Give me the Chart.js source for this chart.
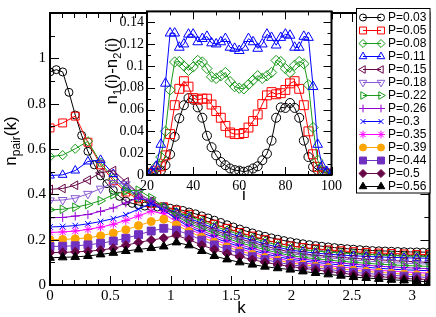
<!DOCTYPE html>
<html><head><meta charset="utf-8">
<script src="https://cdn.jsdelivr.net/npm/chart.js@4.4.0/dist/chart.umd.min.js"></script>
<style>
html,body{margin:0;padding:0;background:#fff;}
#wrap{position:relative;width:436px;height:317px;overflow:hidden;}
#main{position:absolute;left:0;top:0;}
#inset{position:absolute;left:95px;top:0;}
</style></head><body>
<div id="wrap">
<canvas id="main" width="436" height="317" style="width:436px;height:317px"></canvas>
<canvas id="inset" width="250" height="205" style="width:250px;height:205px"></canvas>
</div>
<script>
// ---------- data ----------
const kFine = [0,0.052,0.105,0.157,0.209,0.262,0.314,0.367,0.419,0.471,0.524,0.576,0.628,0.681,0.733,0.785,0.838,0.890,0.942,0.995,1.047,1.100,1.152,1.204,1.257,1.309,1.361,1.414,1.466,1.518,1.571,1.623,1.676,1.728,1.780,1.833,1.885,1.937,1.990,2.042,2.094,2.147,2.199,2.251,2.304,2.356,2.409,2.461,2.513,2.566,2.618,2.670,2.723,2.775,2.827,2.880,2.932,2.985,3.037,3.089,3.142];
const kCoarse = [0,0.105,0.209,0.314,0.419,0.524,0.628,0.733,0.838,0.942,1.047,1.152,1.257,1.361,1.466,1.571,1.676,1.780,1.885,1.990,2.094,2.199,2.304,2.409,2.513,2.618,2.723,2.827,2.932,3.037,3.142];
const iSites = [20,22,24,26,28,30,32,34,36,38,40,42,44,46,48,50,52,54,56,58,60,62,64,66,68,70,72,74,76,78,80,82,84,86,88,90,92,94,96,98,100];

const xTicks = [0,0.5,1,1.5,2,2.5,3];
const yTicks = [0,0.2,0.4,0.6,0.8,1];
const insetXTicks = [20,40,60,80,100];
const insetYTicks = [0,0.02,0.04,0.06,0.08,0.1,0.12,0.14];

const seriesLabels = ['P=0.03','P=0.05','P=0.08','P=0.11','P=0.15','P=0.18','P=0.22','P=0.26','P=0.3','P=0.35','P=0.39','P=0.44','P=0.5','P=0.56'];

const p003 = [0.94,0.95,0.94,0.85,0.75,0.66,0.59,0.53,0.482,0.447,0.418,0.391,0.37,0.36,0.353,0.348,0.346,0.344,0.342,0.339,0.335,0.329,0.322,0.314,0.305,0.296,0.286,0.276,0.266,0.256,0.247,0.238,0.23,0.222,0.215,0.208,0.202,0.196,0.191,0.186,0.182,0.178,0.174,0.171,0.168,0.165,0.162,0.16,0.158,0.156,0.154,0.152,0.151,0.15,0.149,0.148,0.147,0.146,0.146,0.145,0.145];
const p005 = [0.693,0.715,0.745,0.63,0.53,0.46,0.41,0.38,0.36,0.345,0.33,0.312,0.29,0.268,0.25,0.232,0.216,0.2,0.185,0.172,0.165,0.16,0.155,0.151,0.147,0.144,0.141,0.139,0.137,0.135,0.134];
const p008 = [0.566,0.573,0.601,0.634,0.54,0.47,0.42,0.385,0.36,0.342,0.322,0.303,0.282,0.26,0.24,0.222,0.206,0.191,0.176,0.163,0.156,0.15,0.145,0.141,0.138,0.135,0.132,0.13,0.128,0.127,0.126];
const p011 = [0.483,0.486,0.505,0.545,0.552,0.49,0.43,0.39,0.363,0.342,0.318,0.295,0.272,0.25,0.231,0.213,0.197,0.181,0.167,0.154,0.147,0.141,0.136,0.132,0.129,0.126,0.124,0.122,0.12,0.119,0.118];
const p015 = [0.422,0.426,0.44,0.463,0.495,0.505,0.455,0.405,0.37,0.343,0.313,0.287,0.264,0.242,0.222,0.204,0.188,0.172,0.158,0.145,0.138,0.132,0.127,0.122,0.118,0.114,0.111,0.108,0.105,0.102,0.1];
const p018 = [0.373,0.375,0.383,0.402,0.425,0.45,0.445,0.405,0.368,0.338,0.306,0.28,0.257,0.235,0.214,0.196,0.18,0.164,0.15,0.138,0.131,0.125,0.12,0.115,0.11,0.106,0.102,0.099,0.096,0.094,0.092];
const p022 = [0.332,0.334,0.343,0.355,0.372,0.398,0.415,0.418,0.385,0.345,0.303,0.272,0.249,0.227,0.206,0.187,0.171,0.156,0.142,0.13,0.122,0.116,0.11,0.105,0.1,0.096,0.092,0.089,0.086,0.084,0.082];
const p026 = [0.297,0.298,0.304,0.311,0.325,0.34,0.362,0.387,0.37,0.33,0.295,0.264,0.24,0.218,0.197,0.178,0.162,0.147,0.134,0.122,0.114,0.108,0.102,0.097,0.092,0.087,0.083,0.08,0.077,0.074,0.072];
const p030 = [0.256,0.258,0.262,0.27,0.28,0.293,0.31,0.335,0.36,0.33,0.29,0.256,0.231,0.209,0.188,0.169,0.153,0.138,0.125,0.114,0.106,0.1,0.094,0.088,0.083,0.078,0.074,0.07,0.067,0.065,0.063];
const p035 = [0.232,0.234,0.238,0.245,0.255,0.268,0.285,0.305,0.325,0.315,0.278,0.247,0.222,0.2,0.179,0.16,0.144,0.13,0.117,0.106,0.098,0.091,0.085,0.079,0.074,0.069,0.065,0.061,0.058,0.055,0.052];
const p039 = [0.2,0.201,0.204,0.208,0.217,0.229,0.244,0.262,0.28,0.29,0.265,0.236,0.211,0.189,0.168,0.15,0.135,0.121,0.109,0.098,0.09,0.083,0.077,0.071,0.065,0.06,0.056,0.052,0.048,0.045,0.042];
const p044 = [0.17,0.171,0.173,0.177,0.184,0.194,0.206,0.222,0.238,0.25,0.242,0.222,0.198,0.177,0.157,0.14,0.125,0.112,0.1,0.09,0.082,0.075,0.069,0.062,0.056,0.051,0.047,0.043,0.039,0.036,0.033];
const p050 = [0.143,0.144,0.146,0.149,0.154,0.162,0.175,0.188,0.198,0.207,0.219,0.2,0.176,0.156,0.139,0.125,0.112,0.1,0.09,0.082,0.074,0.067,0.06,0.053,0.046,0.041,0.037,0.033,0.029,0.026,0.024];
const p056 = [0.12,0.122,0.124,0.128,0.135,0.142,0.15,0.157,0.163,0.17,0.188,0.175,0.15,0.128,0.113,0.1,0.09,0.081,0.074,0.068,0.06,0.053,0.047,0.041,0.035,0.031,0.027,0.023,0.02,0.017,0.014];

const inset003 = [0.001,0.001,0.002,0.004,0.009,0.019,0.035,0.052,0.064,0.0705,0.069,0.062,0.0525,0.036,0.0255,0.018,0.012,0.009,0.006,0.0045,0.004,0.003,0.004,0.006,0.008,0.0135,0.0195,0.0315,0.0525,0.062,0.0615,0.066,0.0615,0.0525,0.0315,0.0165,0.0075,0.0045,0.003,0.0015,0.001];
const inset005 = [0.001,0.002,0.004,0.008,0.018,0.0375,0.064,0.079,0.086,0.081,0.0705,0.069,0.07,0.07,0.0646,0.0586,0.0525,0.045,0.039,0.0375,0.0375,0.0385,0.0435,0.0495,0.0555,0.065,0.073,0.076,0.074,0.075,0.078,0.084,0.086,0.079,0.064,0.04,0.019,0.0075,0.003,0.0015,0.001];
const inset008 = [0.001,0.003,0.008,0.0165,0.04,0.078,0.1036,0.104,0.1,0.096,0.099,0.105,0.1036,0.0976,0.09,0.0886,0.091,0.094,0.0856,0.081,0.0796,0.079,0.083,0.087,0.091,0.0886,0.091,0.094,0.105,0.104,0.0976,0.094,0.1006,0.104,0.102,0.0826,0.0435,0.0135,0.0045,0.002,0.001];
const inset011 = [0.001,0.003,0.008,0.028,0.084,0.13,0.13,0.117,0.12,0.129,0.129,0.122,0.125,0.127,0.121,0.12,0.122,0.125,0.117,0.116,0.114,0.117,0.125,0.122,0.116,0.12,0.129,0.126,0.119,0.126,0.129,0.128,0.117,0.117,0.127,0.126,0.081,0.028,0.008,0.003,0.001];

// ---------- styles ----------
const seriesX = [kFine,kCoarse,kCoarse,kCoarse,kCoarse,kCoarse,kCoarse,kCoarse,kCoarse,kCoarse,kCoarse,kCoarse,kCoarse,kCoarse];
const seriesY = [p003,p005,p008,p011,p015,p018,p022,p026,p030,p035,p039,p044,p050,p056];
const colors = ['#000000','#ff0000','#1a9a1a','#0000ff','#670748','#8b5bd5','#1a9a1a','#9400d3','#0000ff','#ff00ff','#ffa500','#7030c0','#670748','#000000'];
const styles = [
  {ps:'circle'},{ps:'rect'},{ps:'rectRot'},{ps:'triangle'},
  {ps:'triangle',rot:-90},{ps:'triangle',rot:180},{ps:'triangle',rot:90},
  {ps:'cross'},{ps:'crossRot'},{ps:'star'},
  {ps:'circle',fill:true},{ps:'rect',fill:true},{ps:'rectRot',fill:true},{ps:'triangle',fill:true}
];
const SIZE = {circle:1, rect:1.4, rectRot:1.15, triangle:1.25, cross:1.1, crossRot:1.0, star:1.1};
const SERIF = 'Liberation Serif', SANS = 'Liberation Sans';
const fmt = v => String(+(+v).toFixed(3));

function makeDataset(xs, ys, s, base) {
  const st = styles[s];
  return {
    label: seriesLabels[s],
    data: ys.map((v, j) => ({x: xs[j], y: v})),
    borderColor: colors[s], borderWidth: 1, tension: 0, fill: false,
    pointStyle: st.ps, pointRotation: st.rot || 0,
    pointRadius: base * SIZE[st.ps], pointBorderWidth: 1,
    pointBorderColor: colors[s],
    pointBackgroundColor: st.fill ? colors[s] : 'rgba(0,0,0,0)',
    order: -s
  };
}

// frame + inward ticks plugin
function framePlugin(o) {
  return {
    id: 'frame',
    afterDatasetsDraw(chart) {
      const {ctx, chartArea: a, scales: {x, y}} = chart;
      ctx.save();
      ctx.strokeStyle = '#000'; ctx.lineWidth = 1;
      const vline = (px, len) => {
        const p = Math.round(px) + 0.5;
        ctx.beginPath();
        ctx.moveTo(p, a.bottom); ctx.lineTo(p, a.bottom - len);
        ctx.moveTo(p, a.top); ctx.lineTo(p, a.top + len);
        ctx.stroke();
      };
      const hline = (py, len) => {
        const p = Math.round(py) + 0.5;
        ctx.beginPath();
        ctx.moveTo(a.left, p); ctx.lineTo(a.left + len, p);
        ctx.moveTo(a.right, p); ctx.lineTo(a.right - len, p);
        ctx.stroke();
      };
      for (let v = x.min; v <= x.max + 1e-9; v += o.xMinor) vline(x.getPixelForValue(v), o.minor);
      for (let v = y.min; v <= y.max + 1e-9; v += o.yMinor) hline(y.getPixelForValue(v), o.minor);
      o.xMajor.forEach(v => vline(x.getPixelForValue(v), o.major));
      o.yMajor.forEach(v => hline(y.getPixelForValue(v), o.major));
      ctx.lineWidth = 2;
      ctx.strokeRect(a.left, a.top, a.right - a.left, a.bottom - a.top);
      ctx.restore();
    }
  };
}

function drawParts(ctx, parts) {
  let total = 0;
  parts.forEach(p => { ctx.font = p.size + 'px "' + SANS + '"'; p.w = ctx.measureText(p.t).width; total += p.w; });
  let xx = -total / 2;
  parts.forEach(p => { ctx.font = p.size + 'px "' + SANS + '"'; ctx.fillText(p.t, xx, p.dy || 0); xx += p.w; });
}

function titlePlugin(o) {
  return {
    id: 'titles',
    afterDraw(chart) {
      const ctx = chart.ctx;
      ctx.save();
      ctx.fillStyle = '#000'; ctx.textBaseline = 'alphabetic'; ctx.textAlign = 'left';
      ctx.save();
      ctx.translate(o.yx, o.yy); ctx.rotate(-Math.PI / 2);
      drawParts(ctx, o.yParts);
      ctx.restore();
      ctx.save();
      ctx.translate(o.xx, o.xy);
      drawParts(ctx, o.xParts);
      ctx.restore();
      ctx.restore();
    }
  };
}

function drawMarker(ctx, st, r, x, y) {
  const opts = {pointStyle: st.ps, rotation: st.rot || 0, radius: r, borderWidth: 1};
  if (Chart.helpers && Chart.helpers.drawPoint) { Chart.helpers.drawPoint(ctx, opts, x, y); return; }
  ctx.beginPath(); ctx.arc(x, y, r, 0, Math.PI * 2); ctx.fill(); ctx.stroke();
}

const legendPlugin = {
  id: 'boxLegend',
  afterDraw(chart) {
    const ctx = chart.ctx;
    ctx.save();
    ctx.fillStyle = '#fff';
    ctx.fillRect(357, 8.5, 73, 184.5);
    ctx.strokeStyle = '#000'; ctx.lineWidth = 1;
    ctx.strokeRect(356.5, 8.5, 73.5, 184.5);
    seriesLabels.forEach((lab, s) => {
      const y = 17.5 + s * 13.0;
      ctx.strokeStyle = colors[s]; ctx.lineWidth = 1;
      ctx.beginPath(); ctx.moveTo(363, y); ctx.lineTo(381, y); ctx.stroke();
      ctx.fillStyle = styles[s].fill ? colors[s] : 'rgba(0,0,0,0)';
      drawMarker(ctx, styles[s], 3.5 * SIZE[styles[s].ps], 363, y);
      ctx.fillStyle = styles[s].fill ? colors[s] : 'rgba(0,0,0,0)';
      drawMarker(ctx, styles[s], 3.5 * SIZE[styles[s].ps], 381, y);
      ctx.fillStyle = '#000';
      ctx.font = '12px "' + SANS + '"';
      ctx.textBaseline = 'middle'; ctx.textAlign = 'left';
      ctx.fillText(lab, 388, y + 0.5);
    });
    ctx.restore();
  }
};

const whiteArea = {
  id: 'whiteArea',
  beforeDraw(chart) {
    const {ctx, chartArea: a} = chart;
    ctx.save(); ctx.fillStyle = '#fff';
    ctx.fillRect(a.left, a.top, a.right - a.left, a.bottom - a.top);
    ctx.restore();
  }
};

function scaleOpts(min, max, ticks, size, pad, fitFn) {
  return {
    type: 'linear', min: min, max: max,
    grid: {display: false, drawTicks: false}, border: {display: false},
    afterBuildTicks: s => { s.ticks = ticks.map(v => ({value: v})); },
    afterFit: fitFn,
    ticks: {font: {family: SERIF, size: size}, color: '#000', padding: pad, maxRotation: 0, autoSkip: false, callback: v => fmt(v)}
  };
}

// ---------- main chart ----------
new Chart(document.getElementById('main'), {
  type: 'line',
  data: {datasets: seriesY.map((ys, s) => makeDataset(seriesX[s], ys, s, 4))},
  options: {
    responsive: false, animation: false, events: [],
    layout: {padding: {left: 0, top: 2, right: 3, bottom: 0}},
    plugins: {legend: {display: false}, tooltip: {enabled: false}},
    scales: {
      x: scaleOpts(0, Math.PI, xTicks, 15, 2, s => { s.height = 32; }),
      y: scaleOpts(0, 1.2, yTicks, 15, 4, s => { s.width = 50; })
    }
  },
  plugins: [
    framePlugin({xMajor: xTicks, yMajor: yTicks, xMinor: 0.1, yMinor: 0.1, major: 9, minor: 5}),
    titlePlugin({yx: 16, yy: 141, yParts: [{t:'n', size:17}, {t:'pair', size:12, dy:4}, {t:'(k)', size:17}],
                 xx: 241.5, xy: 313, xParts: [{t:'k', size:17}]}),
    legendPlugin
  ]
});

// ---------- inset chart ----------
const insetY = [inset003, inset005, inset008, inset011];
new Chart(document.getElementById('inset'), {
  type: 'line',
  data: {datasets: insetY.map((ys, s) => makeDataset(iSites, ys, s, 4.5))},
  options: {
    responsive: false, animation: false, events: [],
    layout: {padding: {left: 0, top: 8, right: 3, bottom: 0}},
    plugins: {legend: {display: false}, tooltip: {enabled: false}},
    scales: {
      x: scaleOpts(20, 100, insetXTicks, 14, 3, s => { s.height = 30; }),
      y: scaleOpts(0, 0.15, insetYTicks, 14, 3, s => { s.width = 52; })
    }
  },
  plugins: [
    whiteArea,
    framePlugin({xMajor: insetXTicks, yMajor: insetYTicks, xMinor: 10, yMinor: 0.01, major: 8, minor: 4}),
    titlePlugin({yx: 22, yy: 71, yParts: [{t:'n', size:17}, {t:'1', size:11, dy:4}, {t:'(i)-n', size:17}, {t:'2', size:11, dy:4}, {t:'(i)', size:17}],
                 xx: 149, xy: 200, xParts: [{t:'i', size:17}]})
  ]
});
</script>
</body></html>
